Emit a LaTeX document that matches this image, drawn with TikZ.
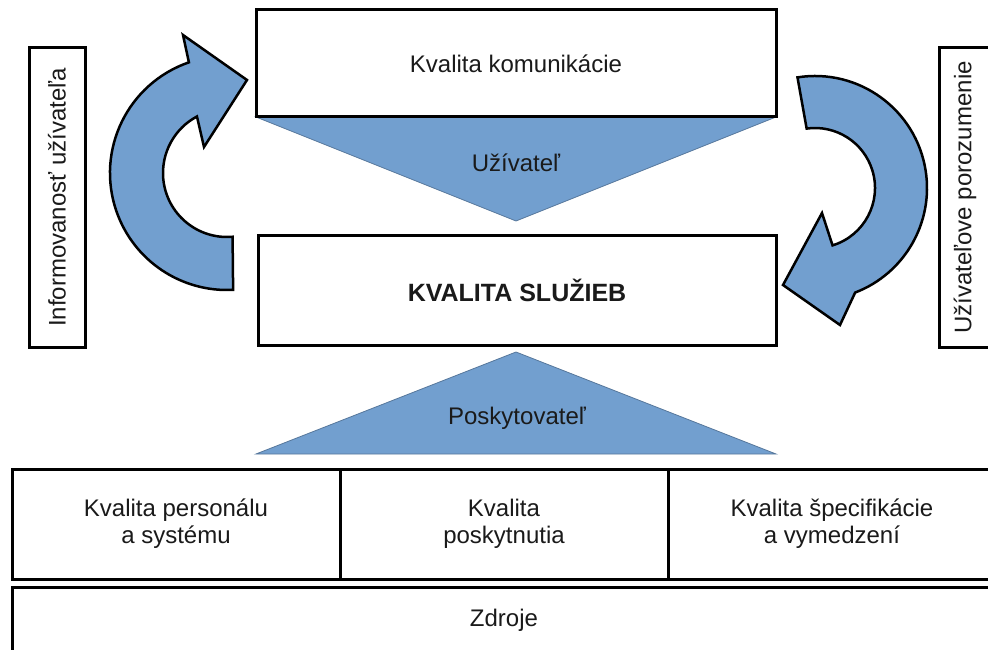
\documentclass[tikz,border=0pt]{standalone}
\usepackage{fontspec}
\setmainfont{Liberation Sans}
\usetikzlibrary{calc}
\definecolor{arrblue}{HTML}{729FCF}
\definecolor{txt}{HTML}{1A1A1A}
\begin{document}
\begin{tikzpicture}[x=1pt,y=-1pt,
  box/.style={draw=black, line width=3pt, fill=white, inner sep=0pt, text=txt,
    font=\fontsize{24}{27}\selectfont, align=center},
  lbl/.style={text=txt, font=\fontsize{24}{27}\selectfont, align=center, inner sep=0pt},
  tri/.style={fill=arrblue, draw=arrblue!75!black, line width=0.8pt},
  carrow/.style={fill=arrblue, draw=black, line width=2.5pt, line join=miter}]
\useasboundingbox (0,0) rectangle (988,650);
\clip (0,0) rectangle (988,650);

% triangles
\coordinate (d1) at (256,117);
\coordinate (d2) at (776,117);
\coordinate (d3) at (516,221);
\path[tri] (d1) -- (d2) -- (d3) -- cycle;
\coordinate (u1) at (256,454);
\coordinate (u2) at (776,454);
\coordinate (u3) at (516,352);
\path[tri] (u1) -- (u2) -- (u3) -- cycle;

% boxes
\node[box, minimum width=520, minimum height=107] (kom) at (516,63.5) {Kvalita komunikácie};
\node[box, minimum width=518, minimum height=110, font=\fontsize{25}{28}\selectfont\bfseries] (slu) at (517,290) {KVALITA SLUŽIEB};
\node[box, minimum width=328, minimum height=110] (c1) at (176,524) {Kvalita personálu\\a systému};
\node[box, minimum width=328, minimum height=110] (c2) at (504,524) {Kvalita\\poskytnutia};
\node[box, minimum width=328, minimum height=110] (c3) at (832,524) {Kvalita špecifikácie\\a vymedzení};
\node[box, minimum width=984, minimum height=66] (zdr) at (504,620) {Zdroje};
\node[box, rotate=90, minimum width=299, minimum height=56] (inf) at (57,197.5) {Informovanosť užívateľa};
\node[box, rotate=90, minimum width=299, minimum height=52] (por) at (965,197.5) {Užívateľove porozumenie};

% triangle labels
\node[lbl] (uz) at (516,163) {Užívateľ};
\node[lbl] (pos) at (517,418) {Poskytovateľ};

% curved arrows
\coordinate (lc) at (227,173);
\path[carrow] ($(lc)+(-109:117)$) arc[start angle=-109, end angle=-273, radius=117]
  -- ($(lc)+(-275:64)$) arc[start angle=-275, end angle=-118, radius=64]
  -- (204,147) -- (247,80) -- (183,35) -- cycle;
\coordinate (rc) at (815,188);
\path[carrow] ($(rc)+(-99:112)$) arc[start angle=-99, end angle=69, radius=112]
  -- (840,325) -- (783,285) -- (822,213)
  -- ($(rc)+(73:60)$) arc[start angle=73, end angle=-98, radius=60] -- cycle;
\end{tikzpicture}
\end{document}
